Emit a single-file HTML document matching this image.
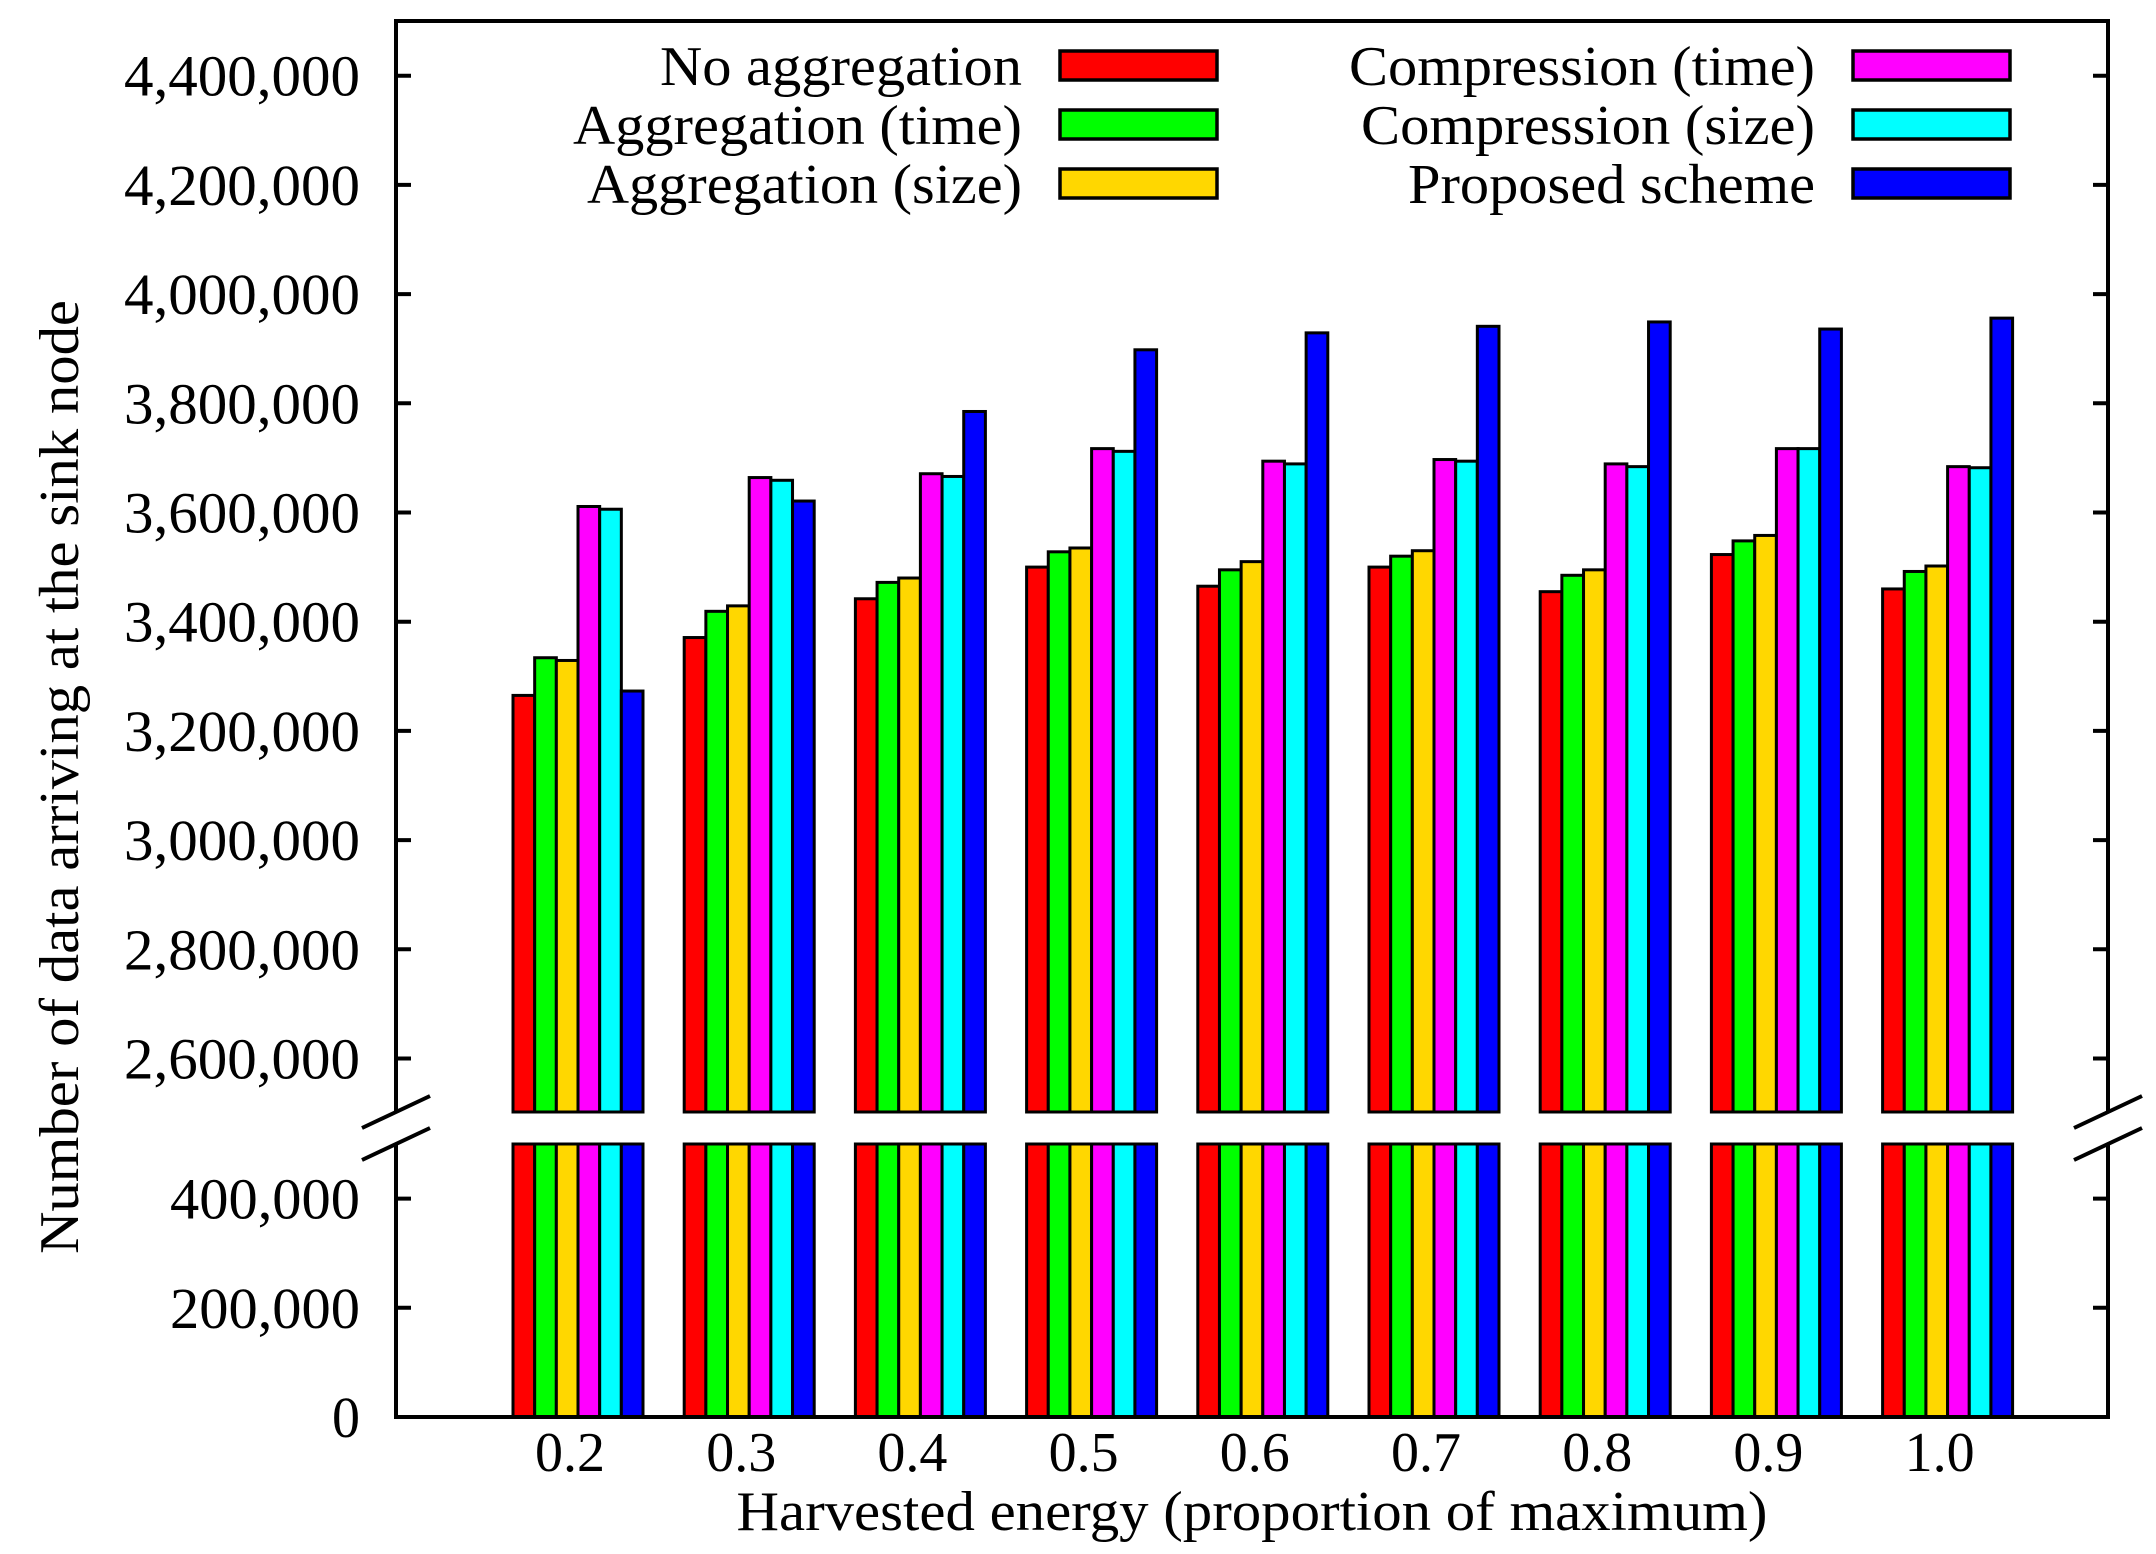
<!DOCTYPE html>
<html><head><meta charset="utf-8"><style>
html,body{margin:0;padding:0;background:#fff}
svg{display:block}
text{font-family:"Liberation Serif","DejaVu Serif",serif;fill:#000}
</style></head>
<body>
<svg id="chart" width="2156" height="1554" viewBox="0 0 2156 1554" xmlns="http://www.w3.org/2000/svg"></svg>
<script>
const categories = ["0.2","0.3","0.4","0.5","0.6","0.7","0.8","0.9","1.0"];
const seriesNames = ["No aggregation","Aggregation (time)","Aggregation (size)","Compression (time)","Compression (size)","Proposed scheme"];
const seriesColors = ["#ff0000","#00ff00","#ffd700","#ff00ff","#00ffff","#0000ff"];
const noAggregation   = [3265000,3371000,3442000,3500000,3465000,3500000,3455000,3523000,3460000];
const aggTime         = [3334000,3419000,3472000,3528000,3495000,3520000,3485000,3548000,3492000];
const aggSize         = [3329000,3429000,3480000,3535000,3510000,3530000,3495000,3558000,3502000];
const compTime        = [3611000,3664000,3671000,3717000,3694000,3697000,3689000,3717000,3684000];
const compSize        = [3606000,3659000,3666000,3712000,3689000,3694000,3684000,3717000,3682000];
const proposed        = [3273000,3621000,3785000,3898000,3929000,3941000,3949000,3936000,3956000];
const upperTicks = [2600000,2800000,3000000,3200000,3400000,3600000,3800000,4000000,4200000,4400000];
const lowerTicks = [0,200000,400000];
const series = [noAggregation,aggTime,aggSize,compTime,compSize,proposed];

const NS="http://www.w3.org/2000/svg";
const svg=document.getElementById('chart');
function mk(tag,attrs,parent){const e=document.createElementNS(NS,tag);for(const k in attrs)e.setAttribute(k,attrs[k]);(parent||svg).appendChild(e);return e;}
const L=396,R=2108,T=21,B=1417;
const PX=109.2/200000;
const upperBase=2500000, upperBottom=1112;
const lowerTop=1144;
function yUpper(v){return 75.7+(4400000-v)*PX;}
function yLower(v){return B-v*PX;}
const fmt=v=>v.toLocaleString('en-US');
const groupW=130, barW=groupW/6;
function xCenter(i){return 578+i*171.2;}

// bars
categories.forEach((c,i)=>{
  const x0=xCenter(i)-groupW/2;
  series.forEach((s,j)=>{
    const x=x0+j*barW;
    const yt=yUpper(s[i]);
    const r1=mk('rect',{x:x,y:yt,width:barW,height:upperBottom-yt,fill:seriesColors[j],stroke:'#000','stroke-width':3});
    
    
    const r2=mk('rect',{x:x,y:lowerTop,width:barW,height:B-lowerTop,fill:seriesColors[j],stroke:'#000','stroke-width':3});
    
    
  });
  const t=mk('text',{x:xCenter(i)-8,y:1471,'font-size':56,'text-anchor':'middle'});
  t.textContent=c;
  
  
});

// frame with break
const frame=mk('g',{stroke:'#000','stroke-width':4,fill:'none'});


mk('path',{d:`M${L},1111 V${T} H${R} V1111 M${L},1145 V${B} H${R} V1145`},frame);
mk('path',{d:`M${L-34},1128 L${L+34},1096 M${L-34},1160 L${L+34},1128 M${R-34},1128 L${R+34},1096 M${R-34},1160 L${R+34},1128`},frame);

// ticks
function tick(y,v){
  mk('path',{d:`M${L},${y} h15 M${R},${y} h-15`,stroke:'#000','stroke-width':4});
  const t=mk('text',{x:360,y:y+20,'font-size':58,'text-anchor':'end',textLength:fmt(v).length>7?236:(fmt(v).length>1?190:28),lengthAdjust:'spacingAndGlyphs'});
  t.textContent=fmt(v);
  
  
}
upperTicks.forEach(v=>tick(yUpper(v),v));
lowerTicks.forEach(v=>tick(yLower(v),v));

// legend
const legendText=[[1022,449],[1022,449],[1022,435],[1815,466],[1815,454],[1815,407]];
const legendWidths=[362,449,435,466,454,407];
seriesNames.forEach((n,j)=>{
  const col=j<3?0:1, row=j%3;
  const cy=65.5+row*59;
  const tx=col?1815:1022, sx=col?1853:1060;
  const t=mk('text',{x:tx,y:cy+19.5,'font-size':56,'text-anchor':'end',textLength:legendWidths[j],lengthAdjust:'spacingAndGlyphs'});
  t.textContent=n;
  
  
  const r=mk('rect',{x:sx,y:cy-14.5,width:157,height:29,fill:seriesColors[j],stroke:'#000','stroke-width':3.5});
  
  
});

// axis titles
const xt=mk('text',{x:1252,y:1530,'font-size':56,'text-anchor':'middle',textLength:1031,lengthAdjust:'spacingAndGlyphs'});
xt.textContent='Harvested energy (proportion of maximum)';


const yt=mk('text',{x:0,y:0,'font-size':56,'text-anchor':'middle',textLength:954,lengthAdjust:'spacingAndGlyphs',transform:'translate(78,777) rotate(-90)'});
yt.textContent='Number of data arriving at the sink node';


</script>
</body></html>
